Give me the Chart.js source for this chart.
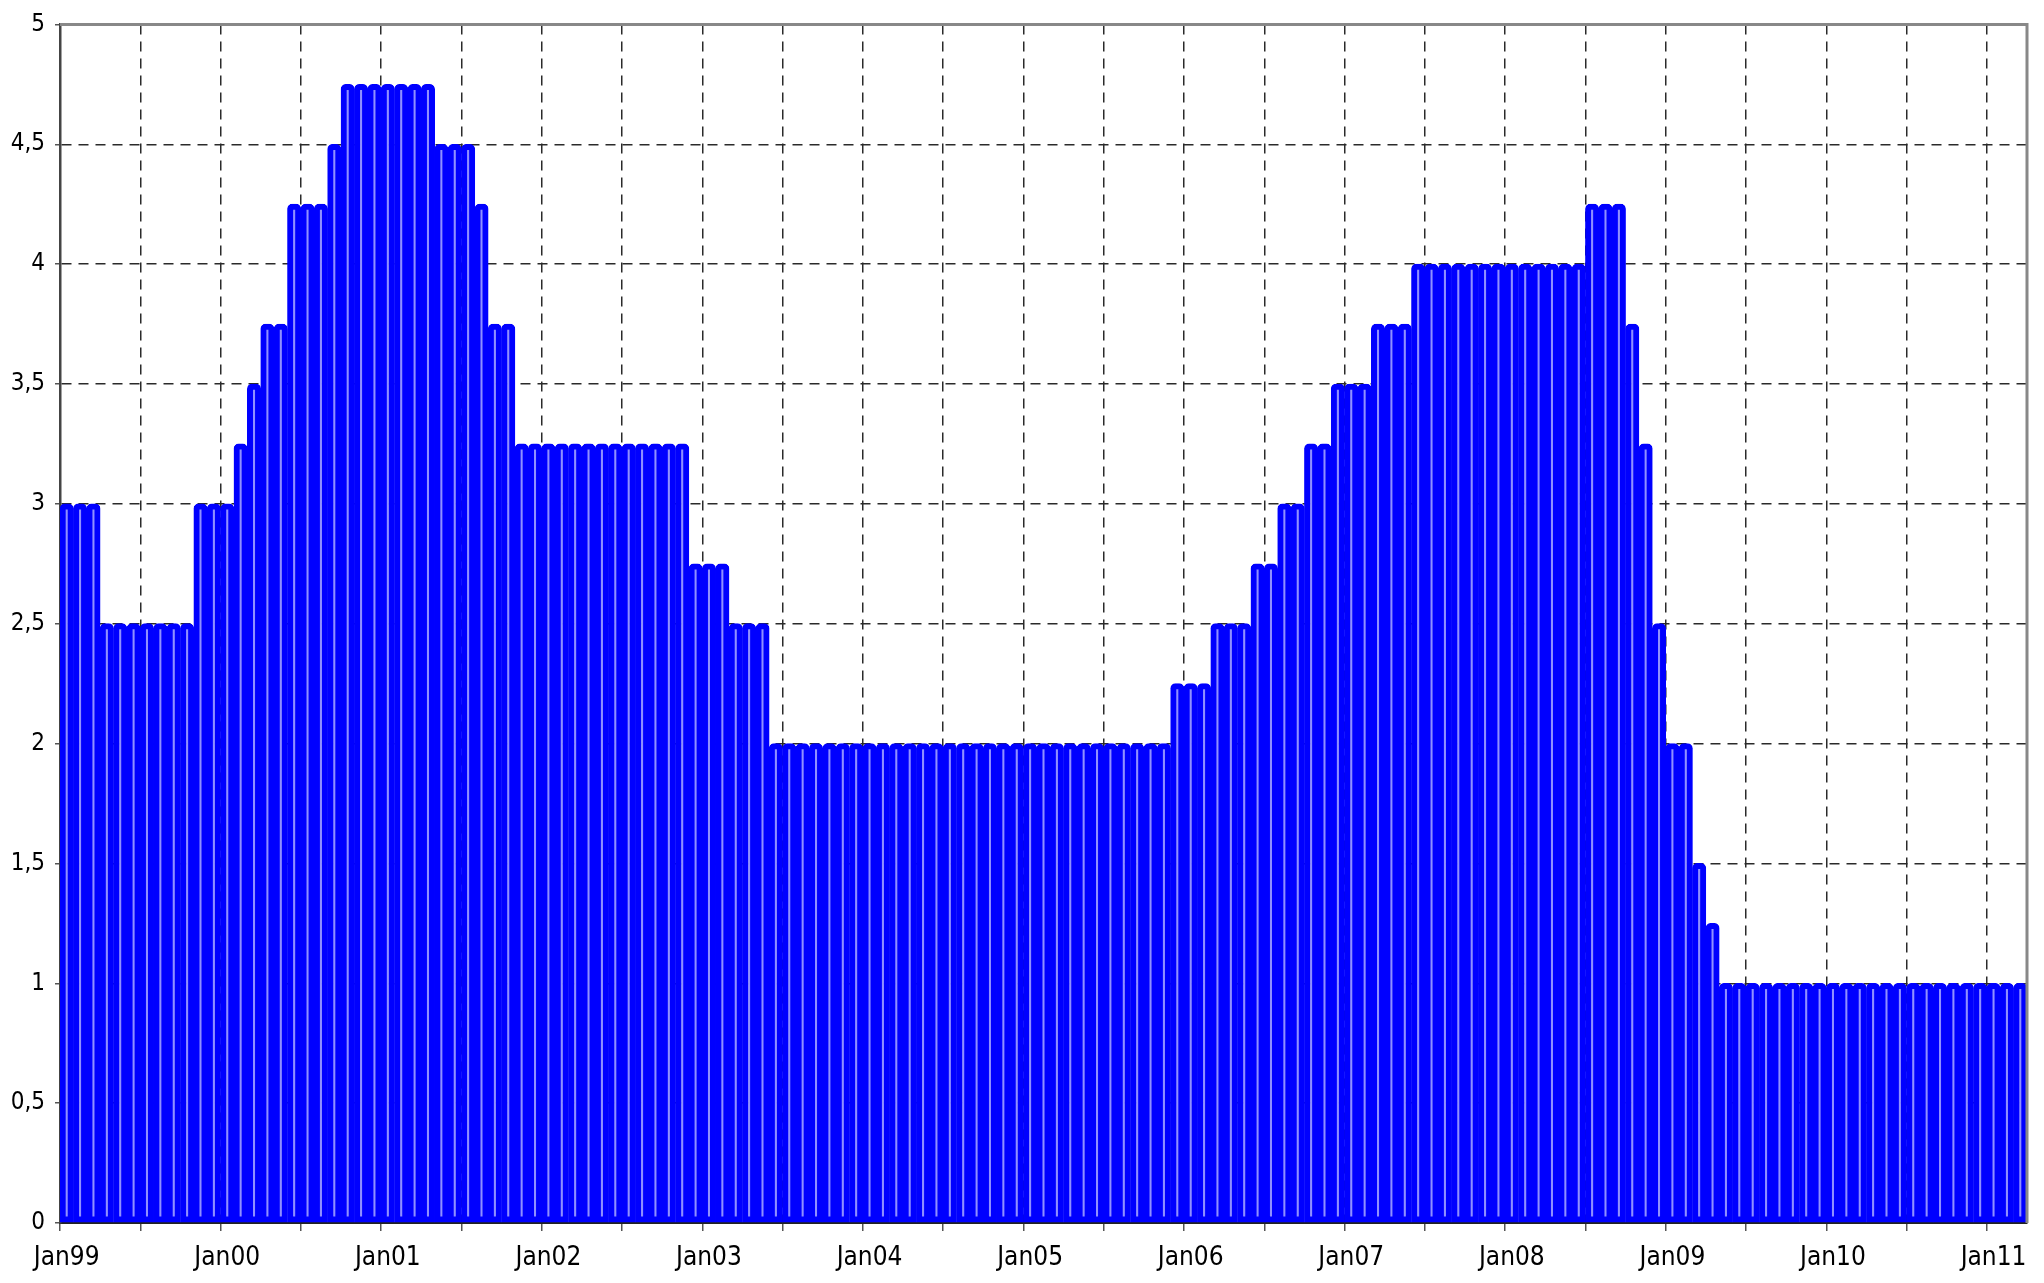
<!DOCTYPE html>
<html>
<head>
<meta charset="utf-8">
<script src="https://cdn.jsdelivr.net/npm/chart.js@4.4.1/dist/chart.umd.min.js"></script>
<style>
  html, body { margin: 0; padding: 0; background: #ffffff; }
  canvas { display: block; }
</style>
</head>
<body>
<canvas id="c" width="2044" height="1283"></canvas>
<script>
// ECB main refinancing rate, monthly, Jan 1999 - Mar 2011
const rates1999 = [3, 3, 3, 2.5, 2.5, 2.5, 2.5, 2.5, 2.5, 2.5, 3, 3];
const rates2000 = [3, 3.25, 3.5, 3.75, 3.75, 4.25, 4.25, 4.25, 4.5, 4.75, 4.75, 4.75];
const rates2001 = [4.75, 4.75, 4.75, 4.75, 4.5, 4.5, 4.5, 4.25, 3.75, 3.75, 3.25, 3.25];
const rates2002 = [3.25, 3.25, 3.25, 3.25, 3.25, 3.25, 3.25, 3.25, 3.25, 3.25, 3.25, 2.75];
const rates2003 = [2.75, 2.75, 2.5, 2.5, 2.5, 2, 2, 2, 2, 2, 2, 2];
const rates2004 = [2, 2, 2, 2, 2, 2, 2, 2, 2, 2, 2, 2];
const rates2005 = [2, 2, 2, 2, 2, 2, 2, 2, 2, 2, 2, 2.25];
const rates2006 = [2.25, 2.25, 2.5, 2.5, 2.5, 2.75, 2.75, 3, 3, 3.25, 3.25, 3.5];
const rates2007 = [3.5, 3.5, 3.75, 3.75, 3.75, 4, 4, 4, 4, 4, 4, 4];
const rates2008 = [4, 4, 4, 4, 4, 4, 4.25, 4.25, 4.25, 3.75, 3.25, 2.5];
const rates2009 = [2, 2, 1.5, 1.25, 1, 1, 1, 1, 1, 1, 1, 1];
const rates2010 = [1, 1, 1, 1, 1, 1, 1, 1, 1, 1, 1, 1];
const rates2011 = [1, 1, 1];

const yearCodes = ['99', '00', '01', '02', '03', '04', '05', '06', '07', '08', '09', '10', '11'];
const monthNames = ['Jan', 'Feb', 'Mar', 'Apr', 'May', 'Jun', 'Jul', 'Aug', 'Sep', 'Oct', 'Nov', 'Dec'];
const yTickValues = [0, 0.5, 1, 1.5, 2, 2.5, 3, 3.5, 4, 4.5, 5];

const values = [].concat(rates1999, rates2000, rates2001, rates2002, rates2003, rates2004,
  rates2005, rates2006, rates2007, rates2008, rates2009, rates2010, rates2011);

const categories = [];
yearCodes.forEach(y => monthNames.forEach(m => { if (categories.length < values.length) categories.push(m + y); }));

const FONT = "'Liberation Sans Narrow', 'Arial Narrow', 'DejaVu Sans Condensed', sans-serif";
const GRID = '#2a2a2a';

const framePlugin = {
  id: 'frame',
  afterDraw(chart) {
    const { ctx, chartArea: a } = chart;
    ctx.save();
    ctx.strokeStyle = '#888888';
    ctx.lineWidth = 3;
    ctx.beginPath();
    ctx.moveTo(a.left, a.top);
    ctx.lineTo(a.right, a.top);
    ctx.lineTo(a.right, a.bottom);
    ctx.stroke();
    ctx.restore();
  }
};

new Chart(document.getElementById('c'), {
  type: 'bar',
  data: {
    labels: categories,
    datasets: [{
      data: values,
      backgroundColor: '#9090ff',
      borderColor: '#0000ff',
      borderWidth: 6,
      borderSkipped: false,
      borderRadius: { topLeft: 5, topRight: 5, bottomLeft: 0, bottomRight: 0 },
      barPercentage: 1,
      categoryPercentage: 1
    }]
  },
  options: {
    responsive: false,
    animation: false,
    layout: { padding: { top: 21, right: 17, left: 0, bottom: 0 } },
    plugins: { legend: { display: false }, tooltip: { enabled: false } },
    scales: {
      x: {
        offset: true,
        afterFit(scale) { scale.height = 60; },
        grid: {
          offset: true,
          color: ctx => (ctx.index > 0 && ctx.index % 6 === 0) ? GRID : 'rgba(0,0,0,0)',
          lineWidth: 1.5,
          tickColor: ctx => (ctx.index % 6 === 0) ? '#555555' : 'rgba(0,0,0,0)',
          tickLength: 8,
          tickWidth: 1.5,
          tickBorderDash: []
        },
        border: { display: true, color: '#222222', width: 2, dash: [10, 7] },
        ticks: {
          autoSkip: false,
          maxRotation: 0,
          minRotation: 0,
          padding: 12,
          color: '#000000',
          font: { family: FONT, size: 26 },
          callback: function (val, idx) {
            const lab = this.getLabelForValue(val);
            return lab.startsWith('Jan') ? lab : '';
          }
        }
      },
      y: {
        min: 0,
        max: 5,
        afterFit(scale) { scale.width = 60; },
        afterBuildTicks(scale) { scale.ticks = yTickValues.map(v => ({ value: v })); },
        grid: {
          color: ctx => (ctx.tick && ctx.tick.value > 0 && ctx.tick.value < 5) ? GRID : 'rgba(0,0,0,0)',
          lineWidth: 1.5,
          tickColor: '#555555',
          tickLength: 5,
          tickWidth: 1.5,
          tickBorderDash: []
        },
        border: { display: true, color: '#444444', width: 2.5, dash: [10, 7] },
        ticks: {
          padding: 10,
          color: '#000000',
          font: { family: FONT, size: 24 },
          callback: v => String(v).replace('.', ',')
        }
      }
    }
  },
  plugins: [framePlugin]
});
</script>
</body>
</html>
